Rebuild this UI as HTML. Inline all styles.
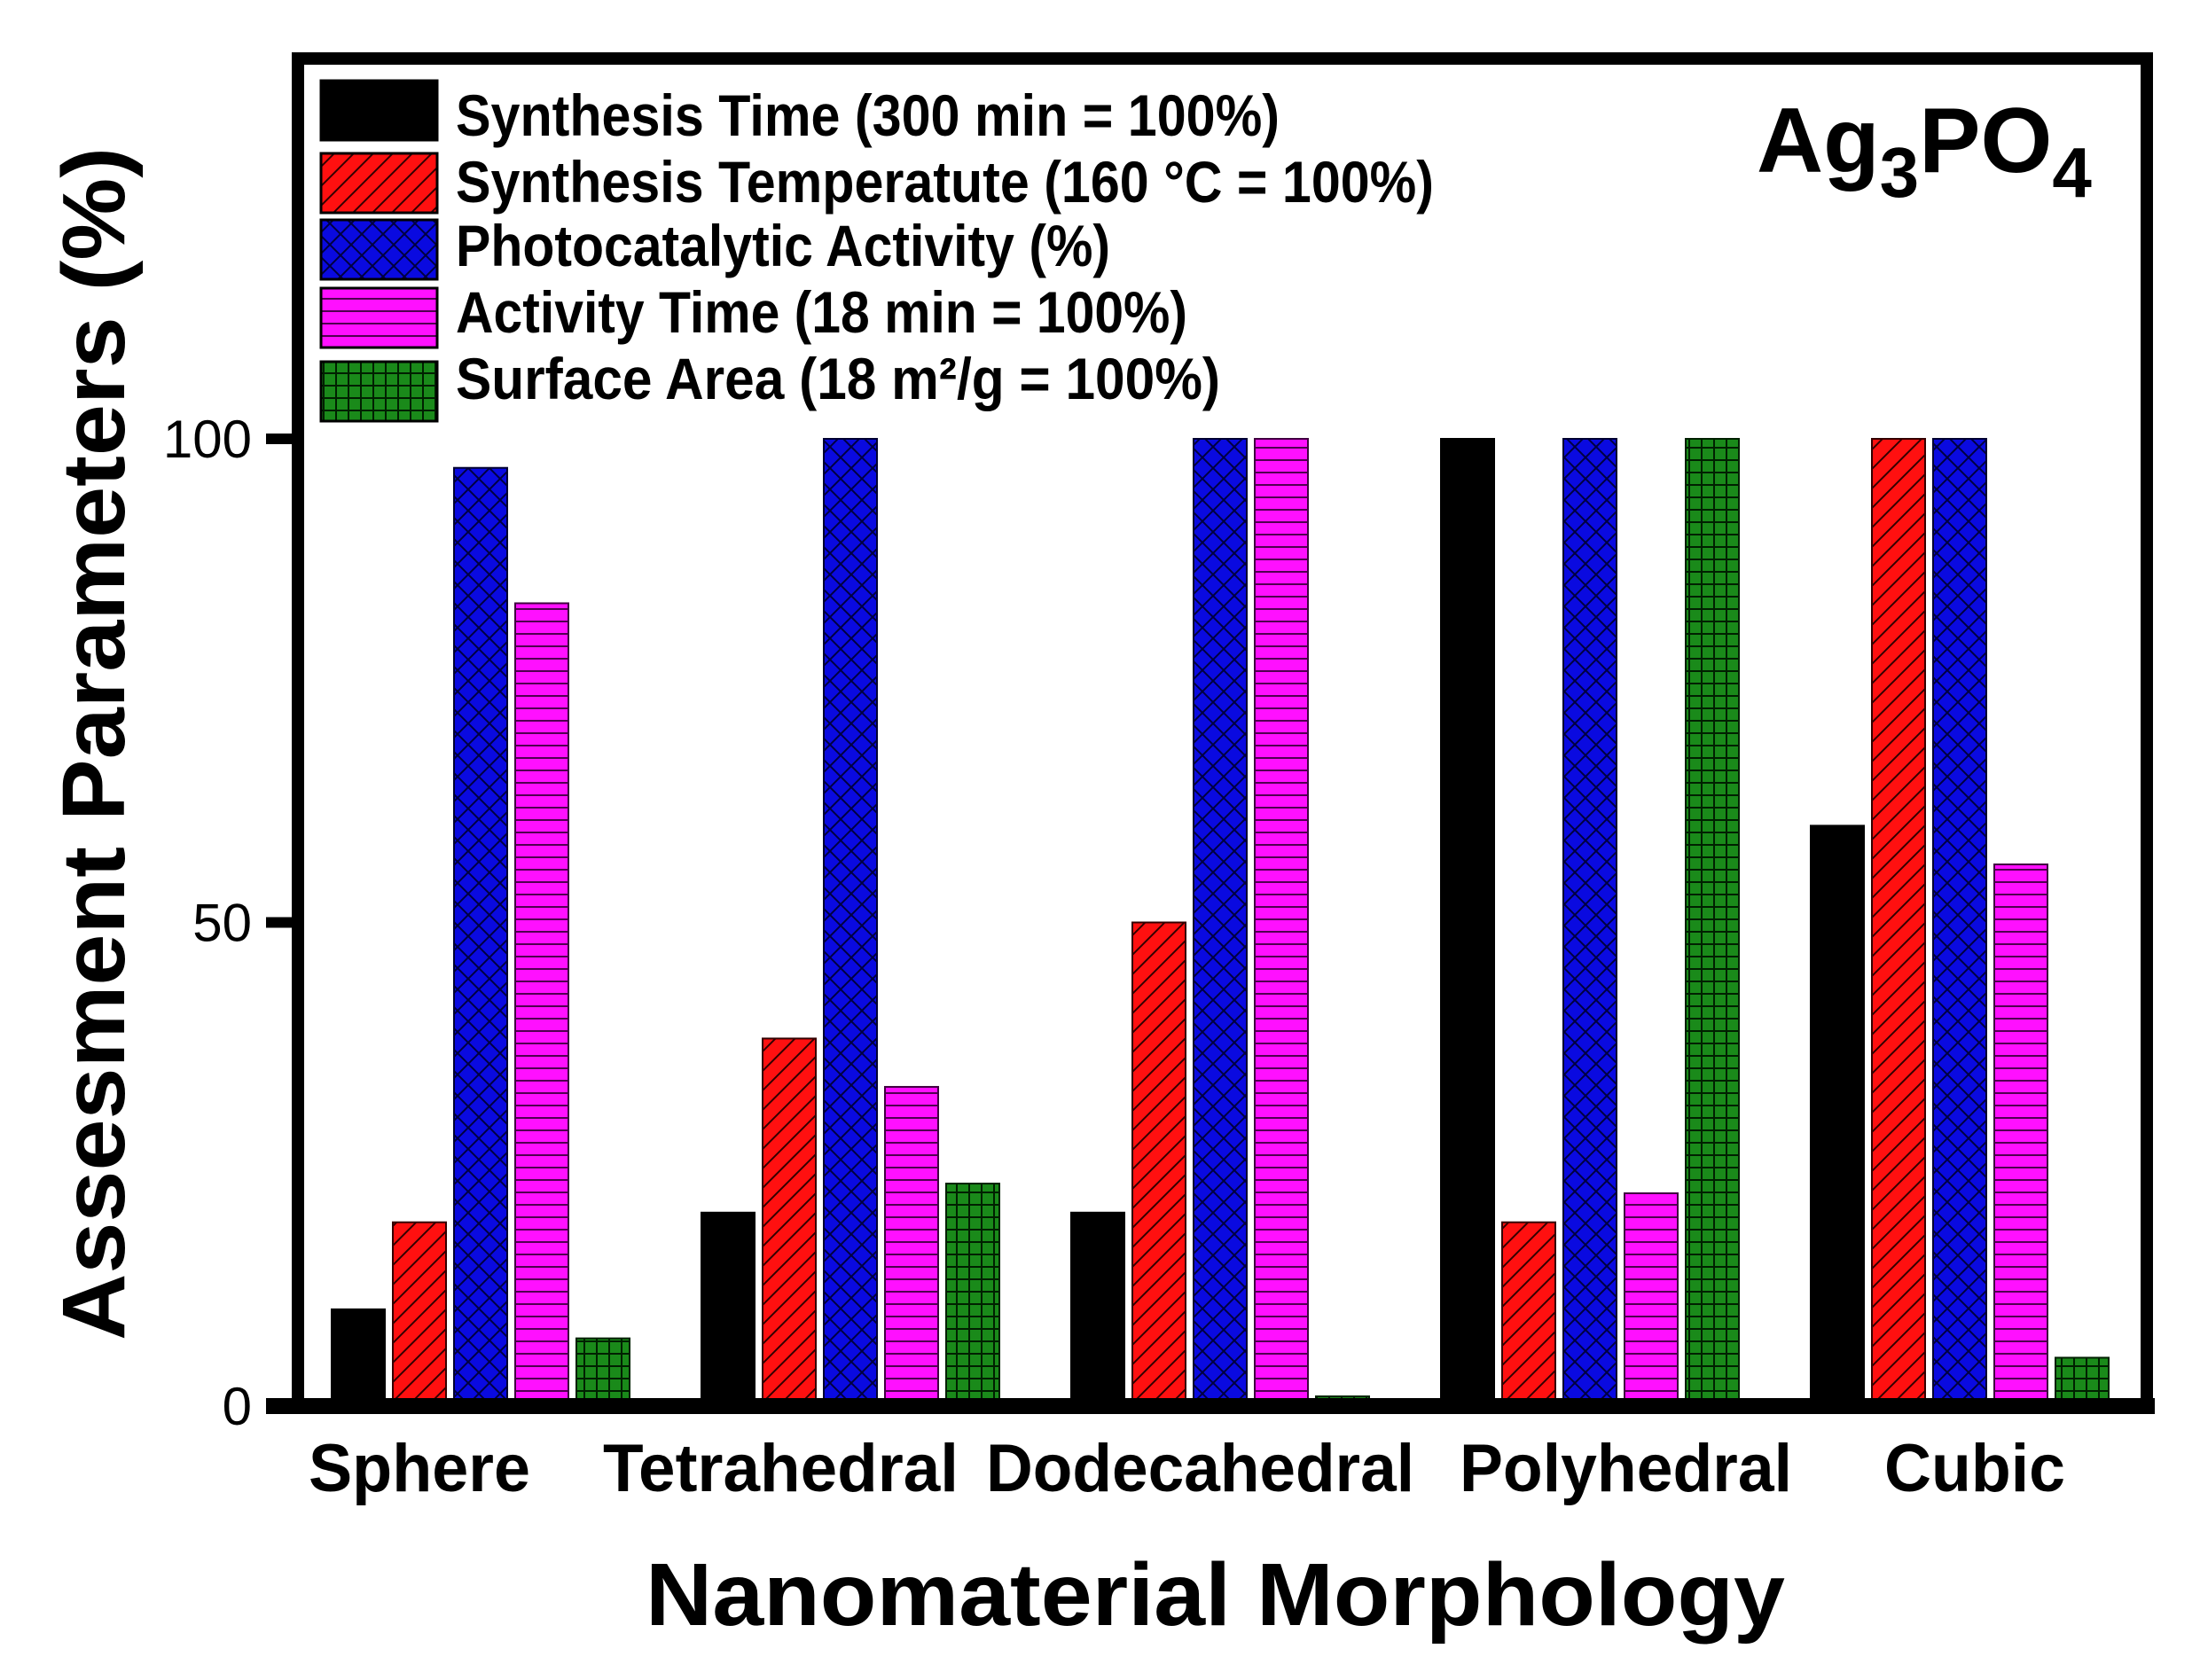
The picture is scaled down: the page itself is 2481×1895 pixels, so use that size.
<!DOCTYPE html>
<html><head><meta charset="utf-8"><style>html,body{margin:0;padding:0;background:#fff}svg{display:block}text{font-family:"Liberation Sans",sans-serif}</style></head>
<body>
<svg id="chart" width="2481" height="1895" viewBox="0 0 2481 1895" xmlns="http://www.w3.org/2000/svg">
<defs>
<pattern id="p-red" patternUnits="userSpaceOnUse" width="22" height="22"><rect width="22" height="22" fill="#ff1010"/><path d="M-5,27 L27,-5 M-16,16 L16,-16 M6,38 L38,6" stroke="#300" stroke-width="2"/></pattern>
<pattern id="p-blue" patternUnits="userSpaceOnUse" width="24" height="24"><rect width="24" height="24" fill="#0a0ae0"/><path d="M0,0 L24,24 M24,0 L0,24" stroke="#000040" stroke-width="2"/></pattern>
<pattern id="p-mag" patternUnits="userSpaceOnUse" width="20" height="14"><rect width="20" height="14" fill="#ff10ff"/><path d="M0,1 L20,1" stroke="#500050" stroke-width="2"/></pattern>
<pattern id="p-green" patternUnits="userSpaceOnUse" width="14" height="14"><rect width="14" height="14" fill="#1a8a1a"/><path d="M0,1 L14,1 M1,0 L1,14" stroke="#002000" stroke-width="2"/></pattern>
</defs>
<g id="bars"></g>
<rect x="336" y="66" width="2085" height="1520" fill="none" stroke="#000" stroke-width="14"/>
<line x1="300" y1="1586" x2="2430" y2="1586" stroke="#000" stroke-width="18"/>
<g id="yticks"></g>
<g id="xlabels"></g>
<text transform="translate(140,839) rotate(-90)" text-anchor="middle" font-size="100" font-weight="bold" textLength="1346" lengthAdjust="spacingAndGlyphs">Assesment Parameters (%)</text>
<text x="728" y="1833" font-size="100" font-weight="bold" textLength="1285" lengthAdjust="spacingAndGlyphs">Nanomaterial Morphology</text>
<text x="1981" y="194" font-size="104" font-weight="bold">Ag<tspan dy="28" font-size="80">3</tspan><tspan dy="-28">PO</tspan><tspan dy="28" font-size="80">4</tspan></text>
<g id="legend"></g>
</svg>
<script>
const categories = ["Sphere","Tetrahedral","Dodecahedral","Polyhedral","Cubic"];
const synthesisTime = [10, 20, 20, 100, 60];
const synthesisTemp = [19, 38, 50, 19, 100];
const photoActivity = [97, 100, 100, 100, 100];
const activityTime = [83, 33, 100, 22, 56];
const surfaceArea = [7, 23, 1, 100, 5];
const yTicks = [0, 50, 100];
const seriesNames = ["Synthesis Time (300 min = 100%)","Synthesis Temperatute (160 °C = 100%)","Photocatalytic Activity (%)","Activity Time (18 min = 100%)","Surface Area (18 m²/g  = 100%)"];

const NS = "http://www.w3.org/2000/svg";
const fills = ["#000","url(#p-red)","url(#p-blue)","url(#p-mag)","url(#p-green)"];
const strokes = ["#000","#300","#000030","#400040","#002000"];
const keys = ["synthesis-time","synthesis-temp","photo-activity","activity-time","surface-area"];
const series = [synthesisTime, synthesisTemp, photoActivity, activityTime, surfaceArea];
const y = v => 1586 - v * 10.91;
const xBar = (g, s) => 374 + g * 417 + s * 69;
function mk(tag, attrs, parent){const e=document.createElementNS(NS,tag);for(const k in attrs)e.setAttribute(k,attrs[k]);parent.appendChild(e);return e;}

const barsG = document.getElementById('bars');
series.forEach((arr, s) => {
  arr.forEach((v, g) => {
    const r = mk('rect', {x: xBar(g, s), y: y(v), width: 60, height: 1586 - y(v), fill: fills[s], stroke: strokes[s], 'stroke-width': 2}, barsG);
    
    
  });
});

const yt = document.getElementById('yticks');
yTicks.forEach(t => {
  const l = mk('line', {x1: 300, x2: 336, y1: y(t), y2: y(t), stroke: '#000', 'stroke-width': 12}, yt);
  
  
  const tx = mk('text', {x: 284, y: y(t) + 21, 'text-anchor': 'end', 'font-size': 60}, yt);
  tx.textContent = t;
  
  
});

const xl = document.getElementById('xlabels');
const labelLeft = [348, 680, 1112, 1646, 2125];
const labelWidth = [250, 401, 483, 375, 204];
categories.forEach((c, g) => {
  const tx = mk('text', {x: labelLeft[g], y: 1682, 'font-size': 76, 'font-weight': 'bold', textLength: labelWidth[g], lengthAdjust: 'spacingAndGlyphs'}, xl);
  tx.textContent = c;
  
  
});

const lg = document.getElementById('legend');
const swY = [91, 173, 248, 325, 408];
const txY = [153, 228, 300, 375, 450];
const txW = [929, 1103, 738, 825, 862];
seriesNames.forEach((n, s) => {
  const r = mk('rect', {x: 362, y: swY[s], width: 131, height: 67, fill: fills[s], stroke: '#000', 'stroke-width': 3}, lg);
  
  
  const tx = mk('text', {x: 514, y: txY[s], 'font-size': 66, 'font-weight': 'bold', textLength: txW[s], lengthAdjust: 'spacingAndGlyphs'}, lg);
  tx.textContent = n;
  
  
});
</script>
</body></html>
